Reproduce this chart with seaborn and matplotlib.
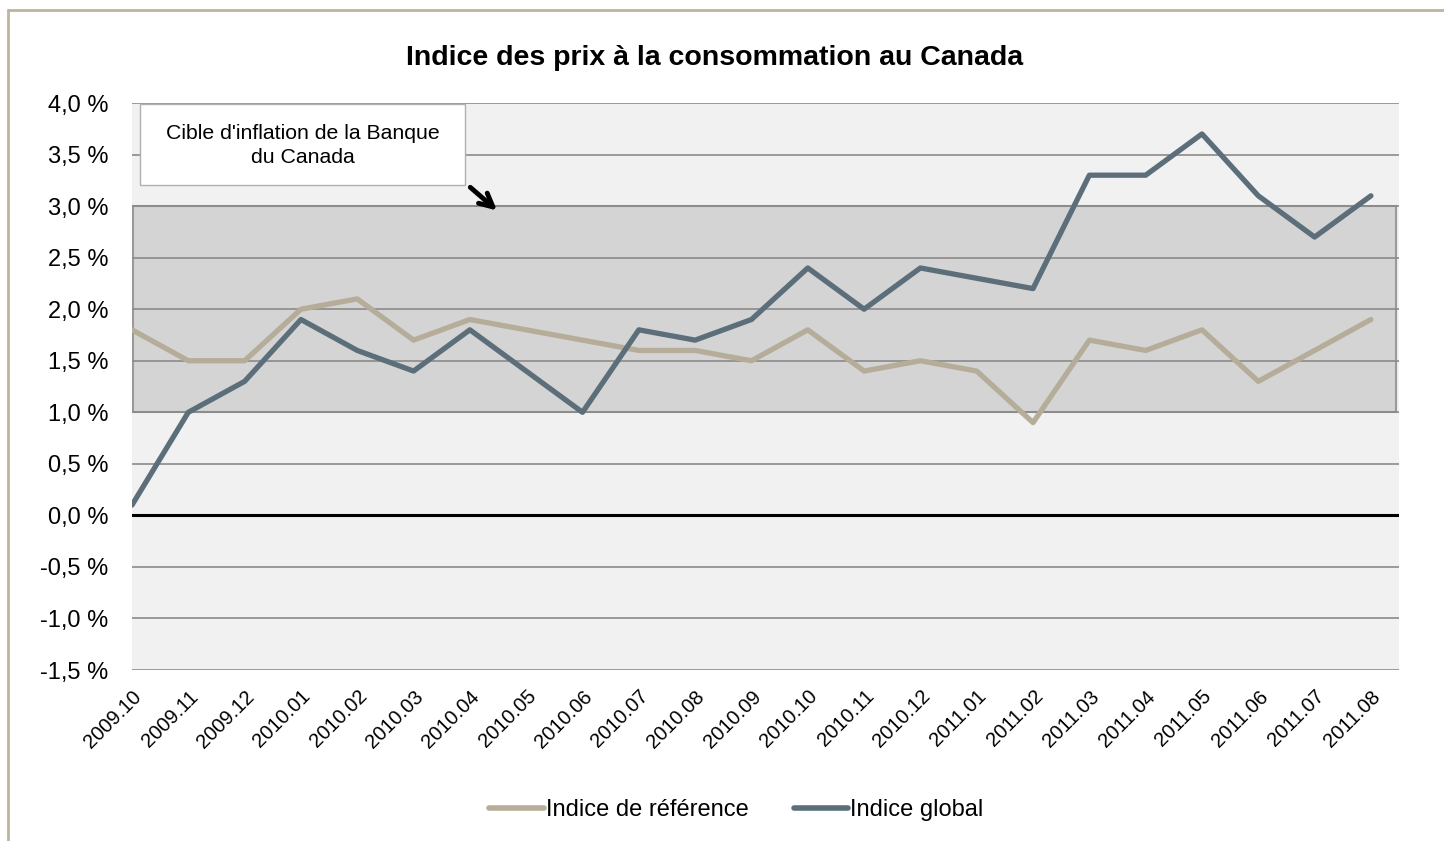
import pandas as pd
import numpy as np
import seaborn as sns
import matplotlib.pyplot as plt
from matplotlib.patches import Rectangle
from matplotlib.lines import Line2D

# Data
mois = ['2009.10', '2009.11', '2009.12', '2010.01', '2010.02', '2010.03', '2010.04',
        '2010.05', '2010.06', '2010.07', '2010.08', '2010.09', '2010.10', '2010.11',
        '2010.12', '2011.01', '2011.02', '2011.03', '2011.04', '2011.05', '2011.06',
        '2011.07', '2011.08']
indice_reference = [1.8, 1.5, 1.5, 2.0, 2.1, 1.7, 1.9, 1.8, 1.7, 1.6, 1.6, 1.5, 1.8, 1.4,
                    1.5, 1.4, 0.9, 1.7, 1.6, 1.8, 1.3, 1.6, 1.9]
indice_global = [0.1, 1.0, 1.3, 1.9, 1.6, 1.4, 1.8, 1.4, 1.0, 1.8, 1.7, 1.9, 2.4, 2.0,
                 2.4, 2.3, 2.2, 3.3, 3.3, 3.7, 3.1, 2.7, 3.1]
cible_bas, cible_haut = 1.0, 3.0
y_ticks = [-1.5, -1.0, -0.5, 0.0, 0.5, 1.0, 1.5, 2.0, 2.5, 3.0, 3.5, 4.0]

series = ['Indice de référence', 'Indice global']
couleurs = ['#b5ad9a', '#5b6e7a']

df = pd.DataFrame({
    'pos': list(range(len(mois))) * 2,
    'valeur': indice_reference + indice_global,
    'serie': [series[0]] * len(mois) + [series[1]] * len(mois),
})

sns.set_style('white')
plt.rcParams['font.family'] = ['Liberation Sans', 'DejaVu Sans']
plt.rcParams['text.color'] = 'black'
plt.rcParams['xtick.labelcolor'] = 'black'
plt.rcParams['ytick.labelcolor'] = 'black'

fig = plt.figure(figsize=(14.44, 8.41), dpi=100)
ax = fig.add_axes([0.0914, 0.2033, 0.8775, 0.6742])
ax.set_facecolor('#f1f1f1')

# target band
ax.add_patch(Rectangle((0.02, cible_bas), 22.43, cible_haut - cible_bas,
                       facecolor='#d4d4d4', edgecolor='#999999', lw=1.5, zorder=0.5))

for t in y_ticks:
    ax.axhline(t, color='#8a8a8a', lw=1.2, zorder=1)
ax.axhline(0, color='black', lw=2.2, zorder=2)

sns.lineplot(data=df, x='pos', y='valeur', hue='serie', palette=couleurs,
             lw=3.8, ax=ax, legend=False, zorder=3)

ax.set_xlim(0, 22.5)
ax.set_ylim(-1.5, 4.0)
ax.set_yticks(y_ticks)
ax.set_yticklabels([f'{t:.1f} %'.replace('.', ',') for t in y_ticks], fontsize=17)
ax.set_xticks(range(len(mois)))
ax.set_xticklabels(mois, rotation=45, ha='right', rotation_mode='anchor', fontsize=14.5)
ax.tick_params(axis='x', direction='inout', length=12, width=1.2, color='#8a8a8a', pad=6)
ax.tick_params(axis='y', length=0, pad=17)
for s in ax.spines.values():
    s.set_visible(False)
ax.set_xlabel('')
ax.set_ylabel('')

# annotation box
ax.add_patch(Rectangle((0.14, 3.2), 5.78, 0.79, facecolor='white',
                       edgecolor='#b0b0b0', lw=1, zorder=4))
ax.text(3.03, 3.59, "Cible d'inflation de la Banque\ndu Canada", ha='center', va='center',
        fontsize=15.3, linespacing=1.3, zorder=5)
ax.annotate('', xy=(6.52, 2.94), xytext=(5.97, 3.2),
            arrowprops=dict(arrowstyle='->', lw=3.5, color='black', mutation_scale=24),
            zorder=5)

fig.suptitle('Indice des prix à la consommation au Canada', x=0.495, y=0.947,
             fontsize=20.5, fontweight='bold')

handles = [Line2D([0], [0], color=c, lw=4, solid_capstyle='round') for c in couleurs]
fig.legend(handles, series, loc='center', bbox_to_anchor=(0.51, 0.037), ncol=2,
           frameon=False, fontsize=17, handlelength=2.3, handletextpad=0.1,
           columnspacing=1.9)

# outer frame
fig.add_artist(Line2D([8 / 1444, 8 / 1444], [0, 1 - 10 / 841], color='#bdb59c', lw=2,
                      transform=fig.transFigure))
fig.add_artist(Line2D([8 / 1444, 1], [1 - 10 / 841, 1 - 10 / 841], color='#bdb59c', lw=2,
                      transform=fig.transFigure))

fig.savefig('out.png', dpi=100, facecolor='white')
